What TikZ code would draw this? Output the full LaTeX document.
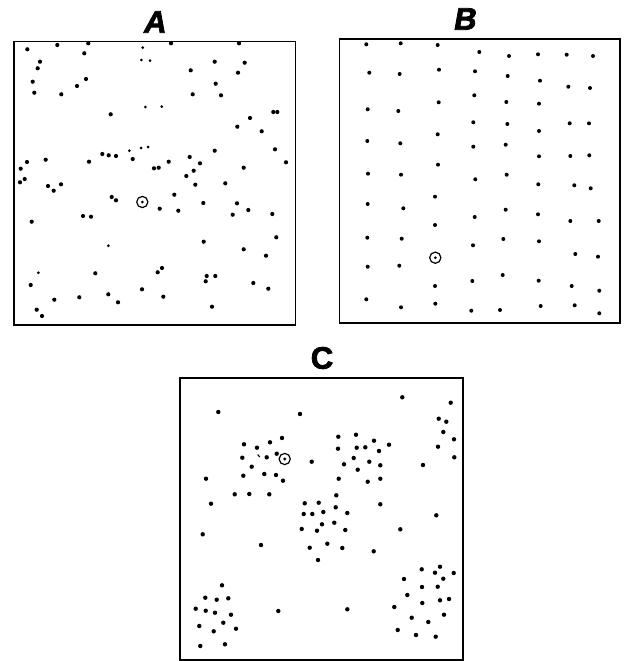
\documentclass[tikz,border=0pt]{standalone}
\usepackage{fontspec}
\setmainfont{Liberation Sans}
\newfontfamily\labfont[FakeBold=2.5]{Liberation Sans Bold}
\newfontfamily\labfontit[FakeBold=2.5,FakeSlant=0.18]{Liberation Sans Bold}
\begin{document}
\begin{tikzpicture}[x=1pt,y=-1pt,
  frame/.style={draw=black,line width=1.6pt},
  lab/.style={font=\fontsize{31}{31}\selectfont,inner sep=0pt,anchor=center},
  ring/.style={draw=black,line width=1.2pt}]
\useasboundingbox (0,0) rectangle (624,661);
% frames
\draw[frame] (14,41.5) rectangle (295.5,325);
\draw[frame] (339.5,39) rectangle (620,323);
\draw[frame] (180,378) rectangle (463,660);
% labels
\node[lab] (labA) at (154,22) {\labfontit A};
\node[lab] (labB) at (464,19) {\labfontit B};
\node[lab] (labC) at (322,358) {\labfont C};
% panel A dots
\foreach \x/\y in {27.3/49.3,57.3/45,88.3/43.3,84.3/53.3,171/43.3,239/43.3,40/61.7,37.7/68.3,214.7/61.7,244.7/62.7,190.7/70.3,238/72.7,32.7/81.7,86/79,77/86,215.7/83.7,34.3/92.7,61.3/94.3,192.7/94.3,221/95.3,110.7/114.3,273.3/112,277.3/112,250/118,237.3/126.7,261.7/131.3,214.7/150.7,275/149.3,102.3/154,108.7/155.3,116/156,132.7/159,45.7/159.7,27/162,89/161.7,189.7/157,168.7/161.7,200/163.3,286/162.3,20.7/168.7,154/168.3,158.7/167.7,243.7/167.7,193.7/170.7,24.7/179,20/182.3,186.3/176,195.3/184.7,225.3/183.3,48/186,53.7/190.7,61/184.3,174.3/194.7,111.7/197,116/200.3,203.3/203,237/203.3,159.7/208.7,178.3/210.7,248.3/210,232.7/214.7,272.3/214,83/216,91/216.7,31.7/221.7,276.3/237.3,203.7/241.7,243.7/249.3,266/255.7,162/268,157.7/272.3,95.3/273.3,206.7/276,215.3/276,205.7/281.3,30.7/285,253.3/283,268.3/288.7,142/289.3,108.3/294.3,79.3/297.3,54.3/299.7,163.3/296.7,118/302.3,212/306.7,36.7/309.7,42/316}
  \fill (\x,\y) circle (2.1);
\foreach \x/\y in {142.7/47.7,141.3/60,150/60.7,145.3/107,161.7/106.7,129.3/150.7,141/148,148/147,108.3/245.7,38.3/272.7,142.3/202}
  \fill (\x,\y) circle (1.5);
\draw[ring] (142.3,202) circle (5.6);
% panel B dots
\foreach \x/\y in {366.3/44.3,400.7/43.3,437.7/45,479.3/52,509/56,538/54.3,566.7/54.7,593/56,369.3/72.7,399.7/74,439/69.7,475/71.3,507.7/76,540/80.7,568.3/86.7,590/88,474.3/95.3,367.7/109.3,398.3/111,438.7/102.3,506.3/102,539/103.7,473.3/122.3,507.3/124,569.7/123.3,589/123.3,539/131,437.7/134.3,367.3/141,400.3/143.3,473.3/146.7,505.7/144.7,539/156.3,570.3/156,589.3/155.3,438/164.7,368/173.7,401/174.7,475.3/179.3,506.7/174.7,538.3/184.3,574.3/185.3,590.7/188.3,435/196.7,367.7/204,403.3/208.3,505.7/209.7,474.7/217,538/214.3,435/225,570.3/221,598.7/221,367.3/237.7,401.7/238.7,503.3/239,539/241.3,473/245.3,575.3/254,598/256.7,367.7/266.7,399.3/265.7,502.7/275,435/286,472.3/281,538.7/280.7,571.7/286,599.3/290.7,366.3/299.3,401/307.3,435.3/303.7,471.3/310.7,500/310,540.7/306,574.7/305.3,599.3/313.3}
  \fill (\x,\y) circle (2.0);
\fill (435.3,257.7) circle (1.5);
\draw[ring] (435.3,257.7) circle (5.6);
% panel C dots
\foreach \x/\y in {402.3/397.3,450.7/402.7,218.3/412,300/414,438.7/418.7,446.3/421.7,443.3/432,454/439.3,438/446.7,454.3/457.3,282/438,270/442.3,244/444.3,257/447.7,276.7/453.7,242.3/457.7,266.7/457.3,251.7/466.7,264.3/474,276/475,243.3/475.7,283/480.7,206/478.7,311.7/461.7,234.7/494.3,249.3/494,269.3/494.3,211/503.7,202.7/534.3,261/545,338.3/436.7,356/434.7,374/440.7,389/444.7,338/448.7,356.7/447.7,365.3/447.3,379/451,353.7/458,369.3/461.7,344/464.3,380.3/465.3,357.7/469.7,423/465,338.7/478.7,367.7/481.7,380.3/478.7,380.3/504.3,336.3/495.3,304.7/503.3,318.7/502.7,335.7/507.3,303.7/514,312.3/514,323.3/512,347.3/513,322/524.3,334.3/522.7,301.7/529,317/530.7,345.3/530,309.7/547.7,327.3/543.7,342.3/548,318/560,436.3/515.3,400.3/529.3,373.7/551.3,222/585.3,205.3/597.7,216.7/599.7,228.3/598.3,195.7/608.7,205.7/610.7,215/612.7,231/614.7,223.3/622.7,199.3/626,213.7/631.3,236/628.7,200.3/646,225/644.3,278.3/611,347.3/609.3,421.7/569.3,440/566.7,435/572.7,453.7/573,404/579,443.3/578.7,422/587,437.7/586.7,407.3/595,440/600.3,449/599,422.3/603,394.3/607,444/614.7,411.7/617.7,428.3/622,397.7/630,416/635,435.7/636.7}
  \fill (\x,\y) circle (2.2);
\draw[line width=1.1pt] (257.7,454.5) -- (259.7,457);
\fill (284.7,459) circle (1.6);
\draw[ring] (284.7,459) circle (5.6);
\end{tikzpicture}
\end{document}
